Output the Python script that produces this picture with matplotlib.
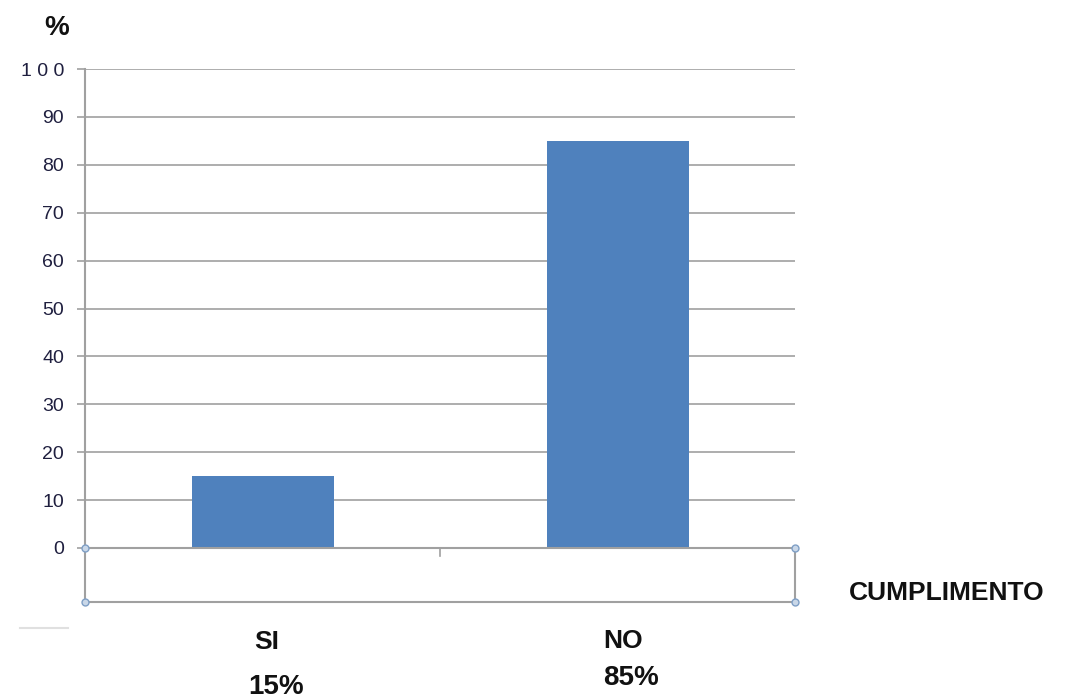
import matplotlib
matplotlib.use("Agg")
import matplotlib.pyplot as plt
from matplotlib.lines import Line2D

categories = ["SI", "NO"]
values = [15, 85]
pct_labels = ["15%", "85%"]
yticks = [0, 10, 20, 30, 40, 50, 60, 70, 80, 90, 100]
ytick_labels = ["0", "10", "20", "30", "40", "50", "60", "70", "80", "90", "1 0 0"]

plt.rcParams['font.family'] = ['Liberation Sans', 'DejaVu Sans']

W, H = 1092, 700
fig = plt.figure(figsize=(W / 100, H / 100), dpi=100)
L, R, B, T = 85, 795, 548, 69
ax = fig.add_axes([L / W, 1 - B / H, (R - L) / W, (B - T) / H])

grid_c = "#a0a0a0"
bar_c = "#4f81bd"
x = list(range(len(categories)))
ax.bar(x, values, width=0.4, color=bar_c, zorder=3)
ax.set_xlim(-0.5, 1.5)
ax.set_ylim(0, 100)
ax.set_yticks(yticks)
ax.set_yticklabels(ytick_labels, fontsize=14, color="#1f1f3f")
ax.yaxis.grid(True, color=grid_c, linewidth=1.2, zorder=0)
ax.tick_params(axis='y', length=6, color=grid_c, width=1.2, pad=9)
ax.set_xticks([])
for s in ["top", "right", "bottom"]:
    ax.spines[s].set_visible(False)
ax.spines["left"].set_color(grid_c)
ax.spines["left"].set_linewidth(1.5)

# lower box region
yb = -(602 - 548) / (B - T)
tr = ax.transAxes
box_c = "#a0a0a0"
ax.add_line(Line2D([0, 1], [0, 0], transform=tr, color=box_c, lw=1.5, clip_on=False, zorder=4))
ax.add_line(Line2D([0, 1], [yb, yb], transform=tr, color=box_c, lw=1.5, clip_on=False))
ax.add_line(Line2D([0, 0], [0, yb], transform=tr, color=box_c, lw=1.5, clip_on=False))
ax.add_line(Line2D([1, 1], [0, yb], transform=tr, color=box_c, lw=1.5, clip_on=False))
ax.add_line(Line2D([0.5, 0.5], [0, -8 / (B - T)], transform=tr, color=box_c, lw=1.2, clip_on=False))
for cx, cy in [(0, 0), (0, yb), (1, 0), (1, yb)]:
    ax.plot([cx], [cy], marker='o', markersize=5, markerfacecolor="#c9d7e8",
            markeredgecolor="#7f9fc6", markeredgewidth=1, transform=tr, clip_on=False, zorder=5)

# category labels (offsets in pixels from category position on the zero line)
cat_off = [(4, -94), (6, -93)]
pct_off = [(14, -139), (13, -130)]
for i, (c, p) in enumerate(zip(categories, pct_labels)):
    ax.annotate(c, xy=(i, 0), xycoords='data',
                xytext=(cat_off[i][0] * 0.72, cat_off[i][1] * 0.72), textcoords='offset points',
                ha='center', va='center', fontsize=19, fontweight='bold', color="#111111",
                annotation_clip=False)
    ax.annotate(p, xy=(i, 0), xycoords='data',
                xytext=(pct_off[i][0] * 0.72, pct_off[i][1] * 0.72), textcoords='offset points',
                ha='center', va='center', fontsize=20, fontweight='bold', color="#111111",
                annotation_clip=False)

fig.text(849 / W, 1 - 593 / H, "CUMPLIMENTO", ha='left', va='center',
         fontsize=19, fontweight='bold', color="#111111")
fig.text(57 / W, 1 - 28 / H, "%", ha='center', va='center',
         fontsize=20, fontweight='bold', color="#111111")
fig.add_artist(Line2D([20 / W, 68 / W], [1 - 628 / H, 1 - 628 / H], color="#e0e0e0", lw=1.5))

fig.savefig("out.png", dpi=100)
